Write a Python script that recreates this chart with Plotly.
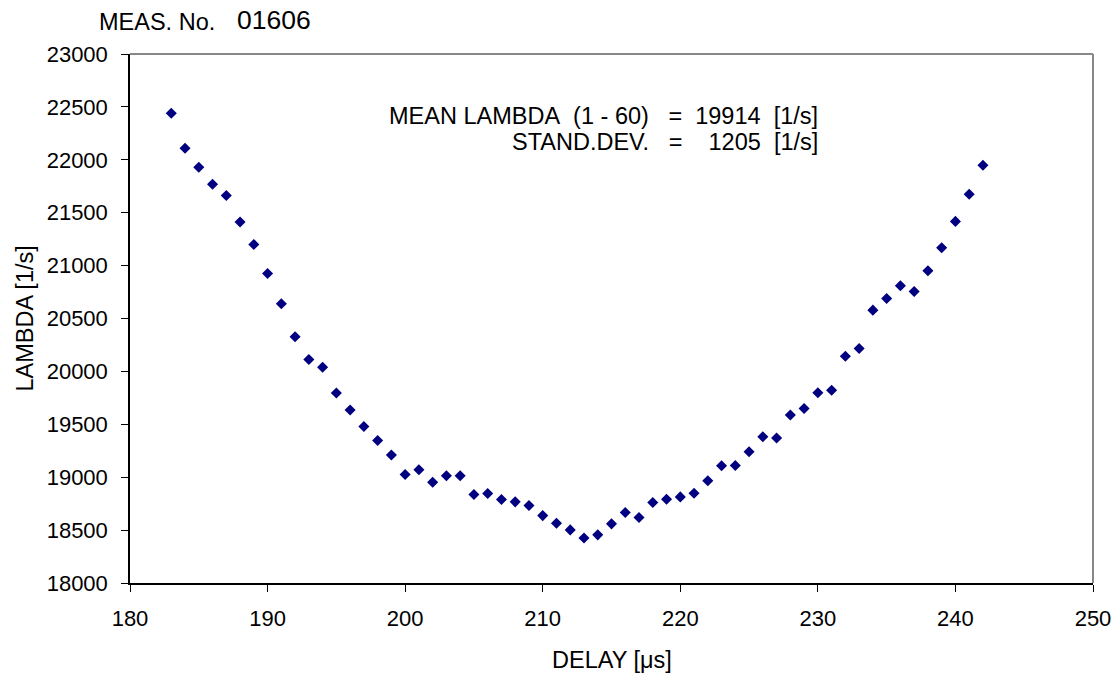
import plotly.graph_objects as go

delay = list(range(183, 243))
lam = [22440, 22110, 21930, 21769, 21662, 21412, 21200, 20926, 20639, 20327,
       20112, 20039, 19796, 19635, 19480, 19347, 19209, 19026, 19070, 18953,
       19013, 19013, 18836, 18846, 18789, 18767, 18732, 18637, 18565, 18502,
       18426, 18455, 18559, 18666, 18619, 18761, 18792, 18814, 18849, 18966,
       19108, 19111, 19241, 19383, 19370, 19588, 19650, 19799, 19821, 20143,
       20216, 20579, 20689, 20809, 20755, 20951, 21169, 21418, 21674, 21949]

x_ticks = [180, 190, 200, 210, 220, 230, 240, 250]
y_ticks = list(range(18000, 23001, 500))
y_ticktext = [str(v) for v in y_ticks]

meas_label = "MEAS. No."
meas_no = "01606"
x_title = "DELAY [\u03bcs]"
y_title = "LAMBDA [1/s]"
stat_line1 = "MEAN LAMBDA\u00a0\u00a0(1 - 60)\u00a0\u00a0\u00a0=\u00a0\u00a019914\u00a0\u00a0[1/s]"
stat_line2 = "STAND.DEV.\u00a0\u00a0\u00a0=\u00a0\u00a0\u00a0\u00a01205\u00a0\u00a0[1/s]"

FONT = "Liberation Sans, Arial, sans-serif"
TXT = 23.5

fig = go.Figure()
fig.add_trace(go.Scatter(
    x=delay, y=lam, mode="markers",
    marker=dict(symbol="diamond", size=8.5, color="#000080",
                line=dict(width=0)),
    showlegend=False,
))

fig.update_layout(
    width=1117, height=675,
    margin=dict(l=130, r=24, t=54, b=92),
    paper_bgcolor="white", plot_bgcolor="white",
    font=dict(family=FONT, size=22, color="black"),
    xaxis=dict(range=[180, 250], tickvals=x_ticks, ticks="outside", ticklen=7,
               tickcolor="black", showline=True, linecolor="black", linewidth=1.5,
               showgrid=False, zeroline=False, automargin=False,
               ticklabelstandoff=8, tickfont=dict(size=22)),
    yaxis=dict(range=[18000, 23000], tickvals=y_ticks, ticktext=y_ticktext,
               ticks="outside", ticklen=7,
               tickcolor="black", showline=True, linecolor="black", linewidth=1.5,
               showgrid=False, zeroline=False, automargin=False,
               ticklabelstandoff=9, tickfont=dict(size=22)),
    shapes=[
        dict(type="line", xref="paper", yref="paper", x0=0, x1=1, y0=1, y1=1,
             line=dict(color="#888888", width=2)),
        dict(type="line", xref="paper", yref="paper", x0=1, x1=1, y0=0, y1=1,
             line=dict(color="#888888", width=2)),
    ],
    annotations=[
        dict(text=meas_label, xref="paper", yref="paper", x=-0.034, y=1.0,
             xanchor="left", yanchor="middle", yshift=32, showarrow=False,
             font=dict(family=FONT, size=TXT)),
        dict(text=meas_no, xref="paper", yref="paper", x=0.109, y=1.0,
             xanchor="left", yanchor="middle", yshift=34, showarrow=False,
             font=dict(family=FONT, size=26.5)),
        dict(text=stat_line1, xref="paper", yref="paper", x=0.717, y=1.0,
             xanchor="right", yanchor="middle", yshift=-62, showarrow=False,
             font=dict(family=FONT, size=TXT)),
        dict(text=stat_line2, xref="paper", yref="paper", x=0.717, y=1.0,
             xanchor="right", yanchor="middle", yshift=-88, showarrow=False,
             font=dict(family=FONT, size=TXT)),
        dict(text=x_title, xref="paper", yref="paper", x=0.5, y=0.0,
             xanchor="center", yanchor="middle", yshift=-77, showarrow=False,
             font=dict(family=FONT, size=TXT)),
        dict(text=y_title, xref="paper", yref="paper", x=0.0, y=0.5,
             xanchor="center", yanchor="middle", xshift=-106, showarrow=False,
             textangle=-90, font=dict(family=FONT, size=TXT)),
    ],
)

fig.write_html("out.html",
               config={"displayModeBar": False},
               post_script="document.body.style.margin='0';document.body.style.overflow='hidden';")
